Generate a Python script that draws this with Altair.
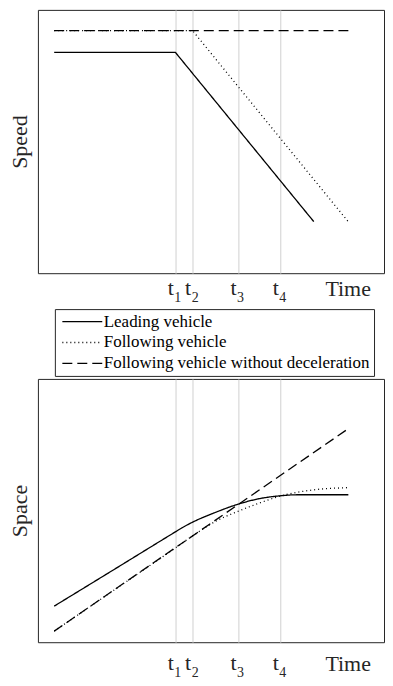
import altair as alt
import pandas as pd

FONT = "Liberation Serif, Times New Roman, serif"
INK = "#262626"

SERIES = ["Leading vehicle", "Following vehicle", "Following vehicle without deceleration"]
DASHES = [[1, 0], [1, 3], [10, 5]]

TICK_TIMES = [39.7, 44.7, 57.8, 70.0]
TICK_SUBS = ["1", "2", "3", "4"]

# Speed panel (time, value) readings
SPEED_LEAD_T = [4.7, 39.7, 79.7]
SPEED_LEAD_V = [83.9, 83.9, 19.6]
SPEED_FOLLOW_T = [4.7, 44.7, 89.7]
SPEED_FOLLOW_V = [92.1, 92.1, 19.5]
SPEED_FREE_T = [4.7, 89.7]
SPEED_FREE_V = [92.1, 92.1]

# Space panel readings
SPACE_LEAD_T = [4.7, 20.0, 36.1, 39.7, 41.7, 44.7, 50.9, 57.8, 63.9, 70.0, 75.0, 82.0, 89.7]
SPACE_LEAD_V = [13.7, 26.0, 39.0, 41.9, 43.5, 45.6, 49.1, 52.4, 54.5, 55.6, 56.0, 56.0, 56.0]
SPACE_FOLLOW_T = [4.7, 20.0, 39.7, 44.7, 51.9, 57.8, 63.9, 70.0, 78.7, 89.7]
SPACE_FOLLOW_V = [4.2, 18.0, 35.8, 40.4, 46.3, 49.7, 52.8, 55.5, 57.7, 58.7]
SPACE_FREE_T = [4.7, 89.7]
SPACE_FREE_V = [4.2, 81.1]

W, H = 347, 264


def frame(parts):
    rows = []
    for name, ts, vs in parts:
        for i, (t, v) in enumerate(zip(ts, vs)):
            rows.append({"series": name, "time": t, "value": v, "idx": i})
    return pd.DataFrame(rows)


speed_df = frame([
    (SERIES[0], SPEED_LEAD_T, SPEED_LEAD_V),
    (SERIES[1], SPEED_FOLLOW_T, SPEED_FOLLOW_V),
    (SERIES[2], SPEED_FREE_T, SPEED_FREE_V),
])
space_df = frame([
    (SERIES[0], SPACE_LEAD_T, SPACE_LEAD_V),
    (SERIES[1], SPACE_FOLLOW_T, SPACE_FOLLOW_V),
    (SERIES[2], SPACE_FREE_T, SPACE_FREE_V),
])
labels_df = pd.DataFrame({"time": TICK_TIMES, "sub": TICK_SUBS, "t": ["t"] * len(TICK_TIMES)})

dash_scale = alt.Scale(domain=SERIES, range=DASHES)


def panel(df, ytitle, label_off, legend, interp):
    x = alt.X(
        "time:Q", title="Time",
        scale=alt.Scale(domain=[0, 100], nice=False, zero=False),
        axis=alt.Axis(values=TICK_TIMES, grid=True, gridColor="#d0d0d0", gridWidth=1,
                      labels=False, ticks=False, domain=False,
                      titleX=0.895 * W, titleY=label_off, titleAlign="center",
                      titleBaseline="alphabetic", titleFont=FONT, titleFontSize=22,
                      titleFontWeight="normal", titleColor=INK),
    )
    y = alt.Y(
        "value:Q", title=ytitle,
        scale=alt.Scale(domain=[0, 100], nice=False, zero=False),
        axis=alt.Axis(labels=False, ticks=False, domain=False, grid=False,
                      titleFont=FONT, titleFontSize=22, titleFontWeight="normal",
                      titleColor=INK, titlePadding=6),
    )
    lines = alt.Chart(df).mark_line(color="black", strokeWidth=1.3, interpolate=interp).encode(
        x=x, y=y,
        strokeDash=alt.StrokeDash("series:N", scale=dash_scale, legend=legend),
        detail="series:N",
        order="idx:Q",
    )
    t_text = alt.Chart(labels_df).mark_text(
        font=FONT, fontSize=22, align="center", baseline="alphabetic", dx=-4.5, color=INK
    ).encode(x=alt.X("time:Q", title="Time"), y=alt.value(H + label_off), text="t:N")
    s_text = alt.Chart(labels_df).mark_text(
        font=FONT, fontSize=14, align="center", baseline="alphabetic", dx=2.5, color=INK
    ).encode(x=alt.X("time:Q", title="Time"), y=alt.value(H + label_off + 7), text="sub:N")
    return alt.layer(lines, t_text, s_text).properties(width=W, height=H)


top_legend = alt.Legend(
    orient="none", legendX=17, legendY=H + 36, direction="vertical", title=None,
    symbolType="M-4,0L4,0", symbolSize=100, symbolStrokeWidth=1.3,
    symbolStrokeColor="black", symbolOffset=15,
    labelFont=FONT, labelFontSize=17, labelColor="black",
    labelLimit=500, padding=4, strokeColor=INK, fillColor="white",
    rowPadding=3, labelOffset=13,
)

top = panel(speed_df, "Speed", 22, top_legend, "linear")
bottom = panel(space_df, "Space", 28, None, "monotone")

chart = (
    alt.vconcat(top, bottom, spacing=1)
    .resolve_legend(strokeDash="independent")
    .properties(padding=0)
    .configure_view(stroke=INK, strokeWidth=1)
)

chart.save("out.html", embed_options={"renderer": "svg", "actions": False})
